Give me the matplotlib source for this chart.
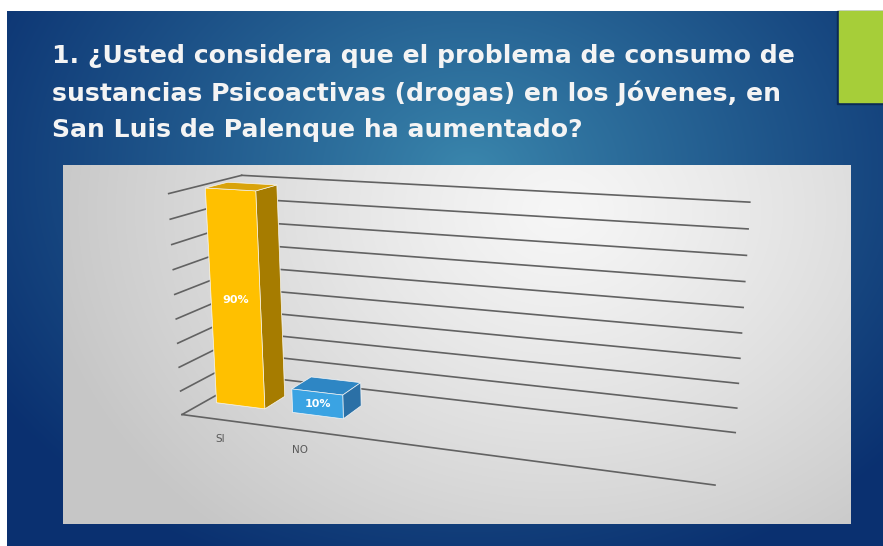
#!/usr/bin/env python3
"""Slide with a 3D bar chart: perceived rise of drug use among young people."""

import matplotlib

matplotlib.use("Agg")
import matplotlib.pyplot as plt
from matplotlib.patches import Rectangle
import numpy as np

W_PX, H_PX = 883, 546

title_lines = [
    "1. ¿Usted considera que el problema de consumo de",
    "sustancias Psicoactivas (drogas) en los Jóvenes, en",
    "San Luis de Palenque ha aumentado?",
]
categories = ["SI", "NO"]
values = [90, 10]
value_labels = ["90%", "10%"]
grid_levels = list(range(0, 100, 10))

# category axis has room for six slots, only the first two are used
N_SLOTS = 6
BAR_OFFSET, BAR_WIDTH = 0.15, 0.64
BAR_FRONT, BAR_BACK = 0.32, 0.63

FRONT_COLORS = ["#FFC000", "#3AA3E3"]
TOP_COLORS = ["#D9A30A", "#2E86C4"]
SIDE_COLORS = ["#A67C00", "#2B70A6"]
GRID = "#626262"


def draw_background(ax: plt.Axes) -> None:
    ax.set_xlim(0, W_PX)
    ax.set_ylim(H_PX, 0)
    ax.axis("off")

    yy, xx = np.mgrid[0:H_PX, 0:W_PX]
    r = np.sqrt(((xx - 470) / 560) ** 2 + ((yy - 170) / 430) ** 2).clip(0, 1)
    c0 = np.array([0.23, 0.53, 0.68])
    c1 = np.array([0.04, 0.19, 0.44])
    slide = c0 + (c1 - c0) * r[..., None] ** 0.9
    ax.imshow(slide[11:, 7:], extent=[7, W_PX, H_PX, 11], aspect="auto", zorder=0)

    ax.add_patch(Rectangle((837, 11), 46, 93, color="#0a2a55", zorder=1))
    ax.add_patch(Rectangle((839, 11), 44, 91, color="#A6CE39", zorder=2))

    py, px = np.mgrid[165:524, 63:851]
    rp = np.sqrt(((px - 560) / 520) ** 2 + ((py - 210) / 420) ** 2).clip(0, 1)
    panel = 0.965 - (0.965 - 0.78) * rp ** 1.2
    ax.imshow(np.dstack([panel] * 3), extent=[63, 851, 524, 165], aspect="auto", zorder=1)

    for baseline, line in zip([63, 101, 137], title_lines):
        ax.text(52, baseline, line, color="#F4F4F4", fontsize=18.1, fontweight="bold",
                family="DejaVu Sans", va="baseline", ha="left", zorder=3)


def draw_chart(ax) -> None:
    ax.set_xlim(0, N_SLOTS)
    ax.set_ylim(0, 1)
    ax.set_zlim(0, 90)
    ax.view_init(elev=14.394, azim=-69.886, roll=0)
    ax.set_proj_type("persp", focal_length=0.3647)
    ax.set_box_aspect((1, 0.2609, 0.4227))
    ax.set_axis_off()
    ax.patch.set_visible(False)

    for v in grid_levels:
        ax.plot([0, N_SLOTS], [1, 1], [v, v], color=GRID, lw=1.2, clip_on=False, zorder=1)
        ax.plot([0, 0], [0, 1], [v, v], color=GRID, lw=1.2, clip_on=False, zorder=1)
    ax.plot([0, N_SLOTS], [0, 0], [0, 0], color=GRID, lw=1.2, clip_on=False, zorder=1)

    n = len(values)
    xs = [i + BAR_OFFSET for i in range(n)]
    # bar3d face order: bottom, top, front, back, left, right
    colors = []
    for i in range(n):
        colors += [FRONT_COLORS[i], TOP_COLORS[i], FRONT_COLORS[i],
                   FRONT_COLORS[i], FRONT_COLORS[i], SIDE_COLORS[i]]
    ax.bar3d(xs, [BAR_FRONT] * n, [0] * n, [BAR_WIDTH] * n, [BAR_BACK - BAR_FRONT] * n,
             values, color=colors, shade=False, edgecolor="#f2f2f2", linewidth=0.5,
             zorder=2)

    for i, (cat, lbl) in enumerate(zip(categories, value_labels)):
        xc = i + BAR_OFFSET + BAR_WIDTH / 2
        ax.text(xc, BAR_FRONT, values[i] / 2, lbl, color="white", fontsize=8,
                fontweight="bold", ha="center", va="center", zorder=5)
        ax.text(i + 0.53, -0.05, -7, cat, color="#595959", fontsize=7.5,
                ha="center", va="center", zorder=5)


def main() -> int:
    fig = plt.figure(figsize=(W_PX / 100, H_PX / 100), dpi=100)
    fig.patch.set_facecolor("white")
    ax_bg = fig.add_axes([0, 0, 1, 1])
    ax3 = fig.add_axes([0.1654, -0.1353, 0.6760, 1.0933], projection="3d",
                       computed_zorder=False)
    draw_background(ax_bg)
    draw_chart(ax3)
    fig.savefig("out.png", dpi=100)
    plt.close(fig)
    return 0


if __name__ == "__main__":
    raise SystemExit(main())
